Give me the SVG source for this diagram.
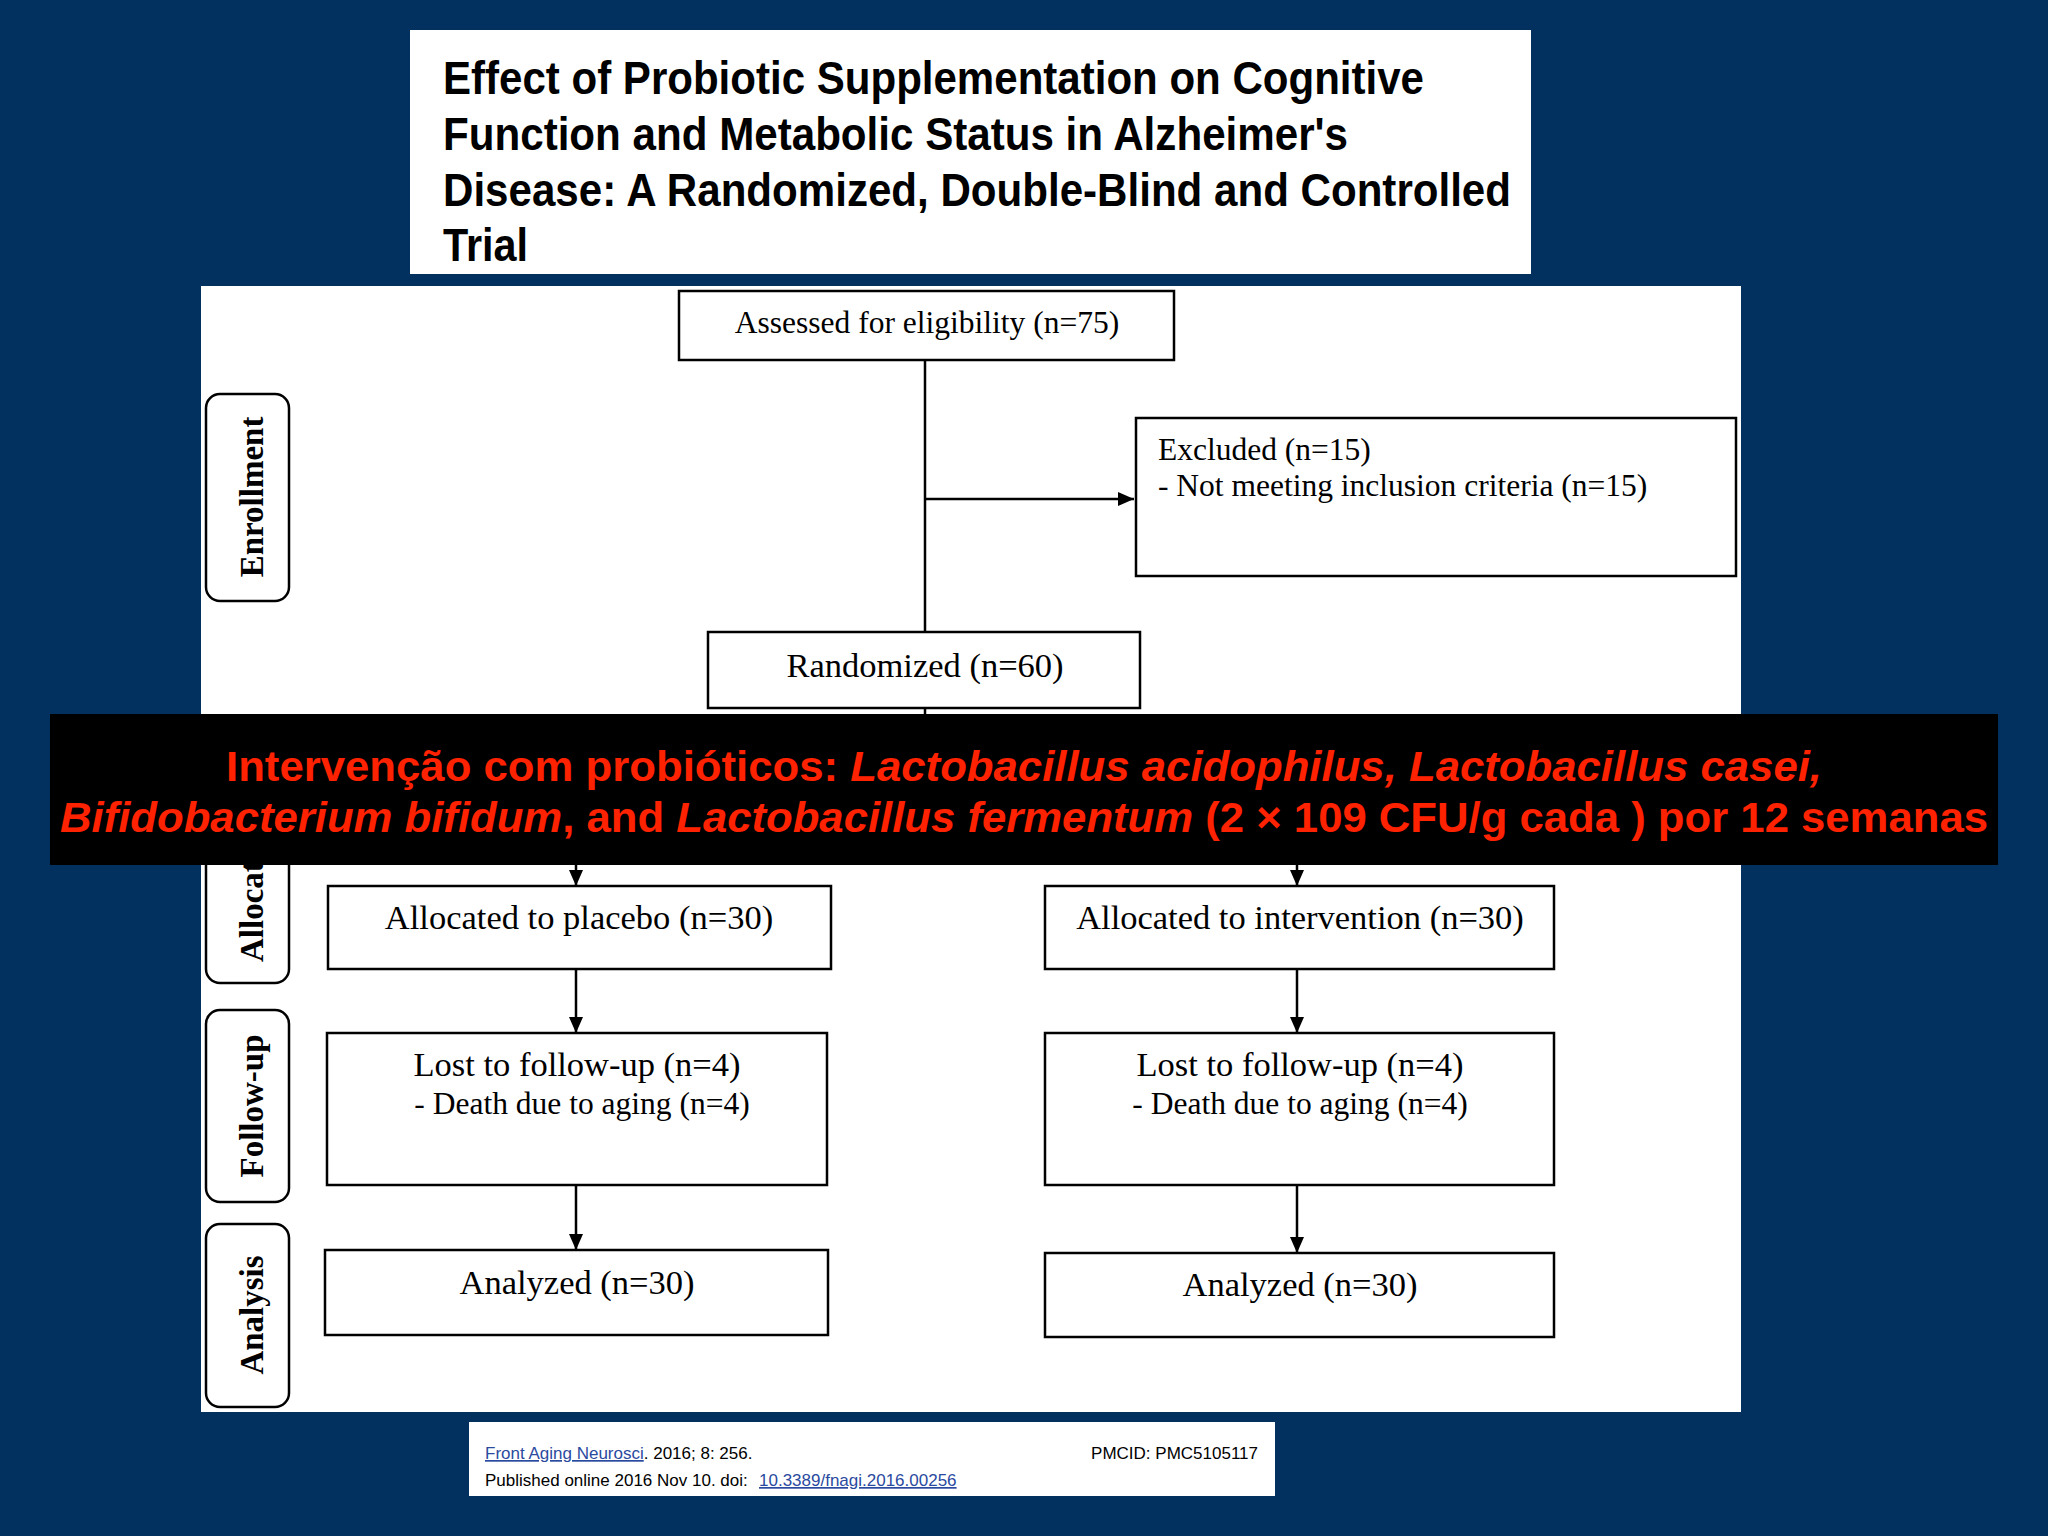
<svg xmlns="http://www.w3.org/2000/svg" width="2048" height="1536" viewBox="0 0 2048 1536">
<defs>
<marker id="arr" viewBox="0 0 16 14" refX="16" refY="7" markerWidth="16" markerHeight="14" markerUnits="userSpaceOnUse" orient="auto">
<path d="M0,0 L16,7 L0,14 z" fill="#000"/>
</marker>
<style>
.box{fill:#fff;stroke:#000;stroke-width:2.5}
.side{fill:#fff;stroke:#000;stroke-width:2.5}
.t{font-family:"Liberation Serif","Times New Roman",serif;font-size:34.5px;fill:#000}
.ts{font-size:31.5px}
.tc{text-anchor:middle}
.sl{font-family:"Liberation Serif","Times New Roman",serif;font-size:33px;font-weight:bold;fill:#000}
.conn{stroke:#000;stroke-width:2.5;fill:none}
.title{font-family:"Liberation Sans",Arial,sans-serif;font-size:46px;font-weight:bold;fill:#000}
.ban{font-family:"Liberation Sans",Arial,sans-serif;font-size:42px;font-weight:bold;fill:#ff2200}
.cit{font-family:"Liberation Sans",Arial,sans-serif;font-size:17px;fill:#000}
.lnk{fill:#2a4aa0;text-decoration:underline}
</style>
</defs>
<rect width="2048" height="1536" fill="#03315f"/>

<g id="title">
<rect x="410" y="30" width="1121" height="244" fill="#fff"/>
<text class="title" x="443" y="94" textLength="981" lengthAdjust="spacingAndGlyphs">Effect of Probiotic Supplementation on Cognitive</text>
<text class="title" x="443" y="150" textLength="905" lengthAdjust="spacingAndGlyphs">Function and Metabolic Status in Alzheimer's</text>
<text class="title" x="443" y="206" textLength="1068" lengthAdjust="spacingAndGlyphs">Disease: A Randomized, Double-Blind and Controlled</text>
<text class="title" x="443" y="261" textLength="85" lengthAdjust="spacingAndGlyphs">Trial</text>
</g>

<rect id="panel" x="201" y="286" width="1540" height="1126" fill="#fff"/>

<g id="connectors">
<line class="conn" x1="925" y1="360" x2="925" y2="632"/>
<line class="conn" x1="925" y1="499" x2="1134" y2="499" marker-end="url(#arr)"/>
<line class="conn" x1="925" y1="708" x2="925" y2="790"/>
<line class="conn" x1="576" y1="790" x2="1297" y2="790"/>
<line class="conn" x1="576" y1="790" x2="576" y2="886" marker-end="url(#arr)"/>
<line class="conn" x1="1297" y1="790" x2="1297" y2="886" marker-end="url(#arr)"/>
<line class="conn" x1="576" y1="969" x2="576" y2="1033" marker-end="url(#arr)"/>
<line class="conn" x1="1297" y1="969" x2="1297" y2="1033" marker-end="url(#arr)"/>
<line class="conn" x1="576" y1="1185" x2="576" y2="1250" marker-end="url(#arr)"/>
<line class="conn" x1="1297" y1="1185" x2="1297" y2="1253" marker-end="url(#arr)"/>
</g>

<g id="enrollment">
<rect class="side" x="206" y="394" width="83" height="207" rx="14"/>
<text class="sl" text-anchor="middle" transform="translate(263,497) rotate(-90)">Enrollment</text>
</g>
<g id="allocation">
<rect class="side" x="206" y="730" width="83" height="253" rx="14"/>
<text class="sl" text-anchor="start" transform="translate(263,962) rotate(-90)">Allocation</text>
</g>
<g id="followup">
<rect class="side" x="206" y="1010" width="83" height="192" rx="14"/>
<text class="sl" text-anchor="middle" transform="translate(263,1106) rotate(-90)">Follow-up</text>
</g>
<g id="analysis">
<rect class="side" x="206" y="1224" width="83" height="183" rx="14"/>
<text class="sl" text-anchor="middle" transform="translate(263,1315) rotate(-90)">Analysis</text>
</g>

<g id="assessed">
<rect class="box" x="679" y="291" width="495" height="69"/>
<text class="t ts tc" x="927" y="333">Assessed for eligibility (n=75)</text>
</g>
<g id="excluded">
<rect class="box" x="1136" y="418" width="600" height="158"/>
<text class="t ts" x="1158" y="460">Excluded (n=15)</text>
<text class="t ts" x="1158" y="496">- Not meeting inclusion criteria (n=15)</text>
</g>
<g id="randomized">
<rect class="box" x="708" y="632" width="432" height="76"/>
<text class="t tc" x="925" y="677">Randomized (n=60)</text>
</g>
<g id="placebo">
<rect class="box" x="328" y="886" width="503" height="83"/>
<text class="t tc" x="579" y="929">Allocated to placebo (n=30)</text>
</g>
<g id="intervention">
<rect class="box" x="1045" y="886" width="509" height="83"/>
<text class="t tc" x="1300" y="929">Allocated to intervention (n=30)</text>
</g>
<g id="lost-placebo">
<rect class="box" x="327" y="1033" width="500" height="152"/>
<text class="t tc" x="577" y="1076">Lost to follow-up (n=4)</text>
<text class="t ts tc" x="582" y="1114">- Death due to aging (n=4)</text>
</g>
<g id="lost-intervention">
<rect class="box" x="1045" y="1033" width="509" height="152"/>
<text class="t tc" x="1300" y="1076">Lost to follow-up (n=4)</text>
<text class="t ts tc" x="1300" y="1114">- Death due to aging (n=4)</text>
</g>
<g id="analyzed-placebo">
<rect class="box" x="325" y="1250" width="503" height="85"/>
<text class="t tc" x="577" y="1294">Analyzed (n=30)</text>
</g>
<g id="analyzed-intervention">
<rect class="box" x="1045" y="1253" width="509" height="84"/>
<text class="t tc" x="1300" y="1296">Analyzed (n=30)</text>
</g>

<g id="banner">
<rect x="50" y="714" width="1948" height="151" fill="#000"/>
<text class="ban" x="226" y="781" textLength="1596" lengthAdjust="spacingAndGlyphs">Intervenção com probióticos: <tspan font-style="italic">Lactobacillus acidophilus, Lactobacillus casei,</tspan></text>
<text class="ban" x="60" y="832" textLength="1928" lengthAdjust="spacingAndGlyphs"><tspan font-style="italic">Bifidobacterium bifidum</tspan>, and <tspan font-style="italic">Lactobacillus fermentum</tspan> (2 × 109 CFU/g cada ) por 12 semanas</text>
</g>

<g id="citation">
<rect x="469" y="1422" width="806" height="74" fill="#fff"/>
<text class="cit" x="485" y="1459"><tspan class="lnk">Front Aging Neurosci</tspan>. 2016; 8: 256.</text>
<text class="cit" x="1258" y="1459" text-anchor="end">PMCID: PMC5105117</text>
<text class="cit" x="485" y="1486">Published online 2016 Nov 10. doi: <tspan class="lnk" x="759">10.3389/fnagi.2016.00256</tspan></text>
</g>
</svg>
